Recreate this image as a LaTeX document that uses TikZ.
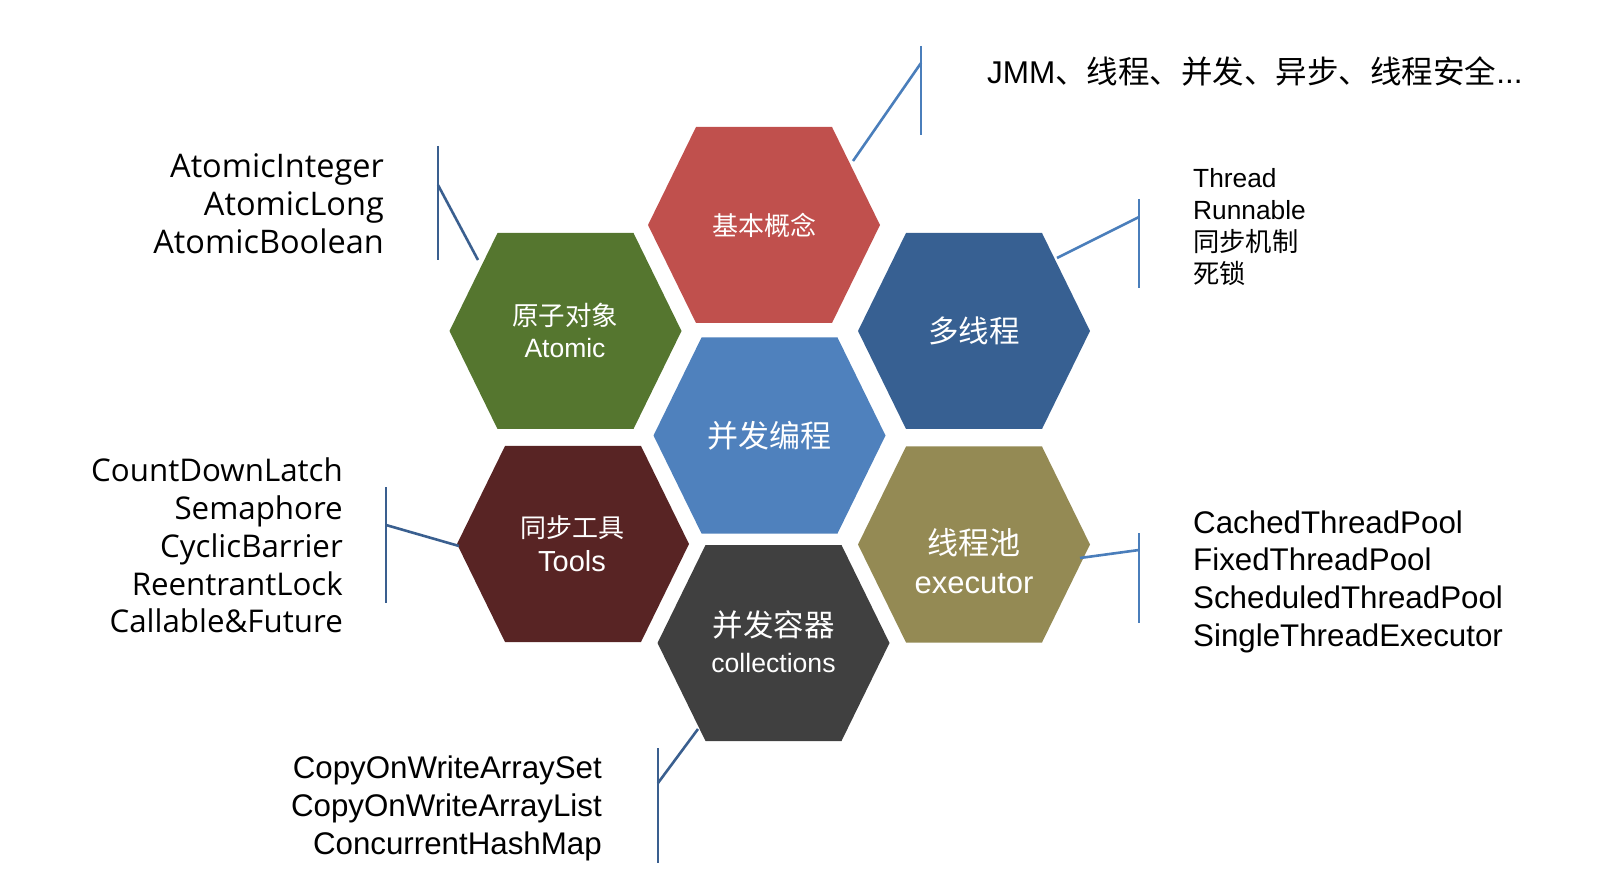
\documentclass[tikz,border=0pt]{standalone}
\usepackage{fontspec}
\setmainfont{Liberation Sans}
\newfontfamily\cjkfont{Noto Sans CJK SC}
\newfontfamily\segoefont{Open Sans}
\newcommand{\zh}[1]{{\cjkfont #1}}
\definecolor{cellred}{HTML}{C0504D}
\definecolor{cellgreen}{HTML}{55762F}
\definecolor{cellblue}{HTML}{4F81BD}
\definecolor{cellnavy}{HTML}{376092}
\definecolor{cellmaroon}{HTML}{582424}
\definecolor{cellgray}{HTML}{404040}
\definecolor{cellolive}{HTML}{948A54}
\definecolor{linelight}{HTML}{4A7EBB}
\definecolor{linedark}{HTML}{3A5F8F}
\newcommand{\hexcell}[2]{%
  \fill[#2,shift={(#1)}] (-116,0) -- (-68,-98) -- (68,-98) -- (116,0) -- (68,98) -- (-68,98) -- cycle;}
\begin{document}
\begin{tikzpicture}[x=1pt,y=-1pt,
    celltext/.style={text=white,align=center,inner sep=0pt},
    leaf/.style={inner sep=0pt},
    lightline/.style={linelight,line width=2.6pt},
    darkline/.style={linedark,line width=2.6pt}]
        \useasboundingbox (0,0) rectangle (1599,890);
        \hexcell{764,225}{cellred}
        \hexcell{565.5,331}{cellgreen}
        \hexcell{769.5,435.5}{cellblue}
        \hexcell{974,331}{cellnavy}
        \hexcell{573,544}{cellmaroon}
        \hexcell{773.5,643}{cellgray}
        \hexcell{974,544.5}{cellolive}
        \node[celltext,font=\fontsize{26}{32}\selectfont] (basics) at (764,225) {\zh{基本概念}};
        \node[celltext,font=\fontsize{26.5}{32}\selectfont] (atomic) at (565,330) {\zh{原子对象}\\Atomic};
        \node[celltext,font=\fontsize{31}{36}\selectfont] (core) at (769.5,435.5) {\zh{并发编程}};
        \node[celltext,font=\fontsize{30.5}{36}\selectfont] (threading) at (974,331) {\zh{多线程}};
        \node[celltext,font=\fontsize{26}{34}\selectfont] (tools) at (572,544) {\zh{同步工具}\\{\fontsize{29}{34}\selectfont Tools}};
        \node[celltext,font=\fontsize{30.5}{36}\selectfont] (containers) at (773.5,642) {\zh{并发容器}\\{\fontsize{26.6}{36}\selectfont collections}};
        \node[celltext,font=\fontsize{31}{38.5}\selectfont] (pool) at (974,561) {\zh{线程池}\\executor};
        \node[leaf,anchor=west,font=\fontsize{31.5}{37}\selectfont] (concepts) at (987,71) {JMM\zh{、线程、并发、异步、线程安全}...};
        \node[leaf,anchor=west,align=left,font=\fontsize{26.3}{32.3}\selectfont] (threadlist) at (1193,227) {Thread\\Runnable\\\zh{同步机制}\\\zh{死锁}};
        \node[leaf,anchor=east,align=right,font=\segoefont\fontsize{32.5}{38}\selectfont] (atomiclist) at (384,204) {AtomicInteger\\AtomicLong\\AtomicBoolean};
        \node[leaf,anchor=east,align=right,font=\segoefont\fontsize{31.3}{37.8}\selectfont] (toollist) at (343,545.5) {CountDownLatch\\Semaphore\\CyclicBarrier\\ReentrantLock\\Callable\&Future};
        \node[leaf,anchor=east,align=right,font=\fontsize{31.3}{37.7}\selectfont] (containerlist) at (602,808.5) {CopyOnWriteArraySet\\CopyOnWriteArrayList\\ConcurrentHashMap};
        \node[leaf,anchor=west,align=left,font=\fontsize{31.3}{37.7}\selectfont] (poollist) at (1193,581.5) {CachedThreadPool\\FixedThreadPool\\ScheduledThreadPool\\SingleThreadExecutor};
        \coordinate (basicsTop) at (921,46);
        \coordinate (basicsBot) at (921,135);
        \coordinate (basicsJoin) at (921,63);
        \coordinate (basicsTip) at (853,161);
        \coordinate (threadTop) at (1139,199);
        \coordinate (threadBot) at (1139,288);
        \coordinate (threadJoin) at (1139,217);
        \coordinate (threadTip) at (1057,258);
        \coordinate (atomicTop) at (438,146);
        \coordinate (atomicBot) at (438,260);
        \coordinate (atomicJoin) at (438,185);
        \coordinate (atomicTip) at (478,260);
        \coordinate (toolTop) at (386,487);
        \coordinate (toolBot) at (386,603);
        \coordinate (toolJoin) at (386,525);
        \coordinate (toolTip) at (459,546);
        \coordinate (poolTop) at (1139,533);
        \coordinate (poolBot) at (1139,623);
        \coordinate (poolJoin) at (1139,550);
        \coordinate (poolTip) at (1080,558);
        \coordinate (boxTop) at (658,748);
        \coordinate (boxBot) at (658,863);
        \coordinate (boxJoin) at (658,783);
        \coordinate (boxTip) at (698,729);
        \draw[lightline] (basicsTop) -- (basicsBot);
        \draw[lightline] (basicsTip) -- (basicsJoin);
        \draw[lightline] (threadTop) -- (threadBot);
        \draw[lightline] (threadTip) -- (threadJoin);
        \draw[darkline] (atomicTop) -- (atomicBot);
        \draw[darkline] (atomicTip) -- (atomicJoin);
        \draw[darkline] (toolTop) -- (toolBot);
        \draw[darkline] (toolTip) -- (toolJoin);
        \draw[lightline] (poolTop) -- (poolBot);
        \draw[lightline] (poolTip) -- (poolJoin);
        \draw[darkline] (boxTop) -- (boxBot);
        \draw[darkline] (boxTip) -- (boxJoin);
             \end{tikzpicture}
\end{document}
